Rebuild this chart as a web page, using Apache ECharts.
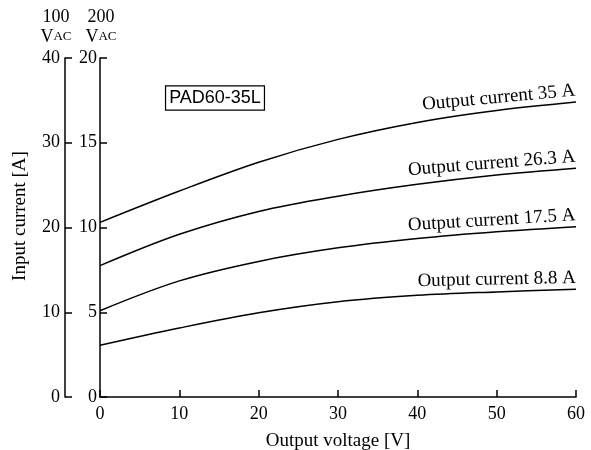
<!DOCTYPE html>
<html>
<head>
<meta charset="utf-8">
<script src="https://cdn.jsdelivr.net/npm/echarts@6/dist/echarts.min.js"></script>
<style>html,body{margin:0;padding:0;background:#fff}#c{width:591px;height:450px}</style>
</head>
<body>
<div id="c"></div>
<script>
var voltage = [0, 10, 20, 30, 40, 50, 60];
var current35 = [10.3, 12.15, 13.85, 15.2, 16.2, 16.9, 17.4];
var current263 = [7.75, 9.6, 10.95, 11.85, 12.55, 13.1, 13.5];
var current175 = [5.09, 6.85, 8.0, 8.8, 9.35, 9.75, 10.05];
var current88 = [3.05, 4.07, 4.97, 5.62, 6.0, 6.2, 6.35];
var seriesNames = ['Output current 35 A', 'Output current 26.3 A', 'Output current 17.5 A', 'Output current 8.8 A'];
var seriesValues = [current35, current263, current175, current88];
var labelAngles = [5.3, 4.6, 3.5, 1.2];
var ticks100 = [0, 10, 20, 30, 40];
var ticks200 = [0, 5, 10, 15, 20];

var serif = 'Liberation Serif';
var chart = echarts.init(document.getElementById('c'));

function buildSeries(i) {
  var vals = seriesValues[i];
  var data = vals.map(function (v, k) {
    var item = { value: [voltage[k], v] };
    if (k === vals.length - 1) {
      item.label = {
        show: true,
        formatter: seriesNames[i],
        position: 'top',
        distance: 2,
        align: 'right',
        verticalAlign: 'bottom',
        rotate: labelAngles[i],
        fontFamily: serif,
        fontSize: 19,
        color: '#000'
      };
    }
    return item;
  });
  return {
    type: 'line',
    name: seriesNames[i],
    yAxisIndex: 0,
    data: data,
    smooth: 0.35,
    symbol: 'circle',
    symbolSize: 0,
    showSymbol: true,
    lineStyle: { color: '#000', width: 1.5 },
    itemStyle: { color: '#000' },
    silent: true,
    animation: false
  };
}

var axisCommon = {
  axisLine: { show: true, lineStyle: { color: '#000', width: 1.5 } },
  axisTick: { show: true, inside: true, length: 7, lineStyle: { color: '#000', width: 1.5 } },
  splitLine: { show: false },
  axisLabel: { color: '#000', fontFamily: serif, fontSize: 18 }
};

chart.setOption({
  animation: false,
  grid: { left: 100, right: 15, top: 58, bottom: 53, containLabel: false, outerBoundsMode: 'none' },
  xAxis: Object.assign({}, axisCommon, {
    type: 'value', min: 0, max: 60, interval: 10,
    name: 'Output voltage [V]', nameLocation: 'middle', nameGap: 35,
    nameTextStyle: { color: '#000', fontFamily: serif, fontSize: 19 },
    axisLabel: { color: '#000', fontFamily: serif, fontSize: 18, margin: 8 }
  }),
  yAxis: [
    Object.assign({}, axisCommon, {
      type: 'value', min: 0, max: 20, interval: 5, position: 'left', offset: 0,
      axisLabel: { color: '#000', fontFamily: serif, fontSize: 18, margin: 3,
        formatter: function (v) { return ticks200.indexOf(v) >= 0 ? String(v) : ''; } }
    }),
    Object.assign({}, axisCommon, {
      type: 'value', min: 0, max: 40, interval: 10, position: 'left', offset: 35,
      axisLabel: { color: '#000', fontFamily: serif, fontSize: 18, margin: 5,
        formatter: function (v) { return ticks100.indexOf(v) >= 0 ? String(v) : ''; } }
    })
  ],
  graphic: [
    {
      type: 'text', x: 56, y: 17,
      style: { text: '100', fontFamily: serif, fontSize: 18, fill: '#000', align: 'center', verticalAlign: 'middle' }
    },
    {
      type: 'text', x: 56, y: 37,
      style: { text: '{a|V}{b|AC}', fill: '#000', align: 'center', verticalAlign: 'middle',
        rich: { a: { fontFamily: serif, fontSize: 18, fill: '#000' }, b: { fontFamily: serif, fontSize: 13, fill: '#000' } } }
    },
    {
      type: 'text', x: 101, y: 17,
      style: { text: '200', fontFamily: serif, fontSize: 18, fill: '#000', align: 'center', verticalAlign: 'middle' }
    },
    {
      type: 'text', x: 101, y: 37,
      style: { text: '{a|V}{b|AC}', fill: '#000', align: 'center', verticalAlign: 'middle',
        rich: { a: { fontFamily: serif, fontSize: 18, fill: '#000' }, b: { fontFamily: serif, fontSize: 13, fill: '#000' } } }
    },
    {
      type: 'text', x: 20, y: 216, rotation: Math.PI / 2,
      style: { text: 'Input current [A]', fontFamily: serif, fontSize: 19, fill: '#000', align: 'center', verticalAlign: 'middle' }
    },
    {
      type: 'text', x: 215, y: 98,
      style: { text: 'PAD60-35L', fontFamily: 'Liberation Sans', fontSize: 18, fill: '#000', align: 'center', verticalAlign: 'middle',
        borderColor: '#000', borderWidth: 1.2, padding: [3, 3, 2, 3], backgroundColor: '#fff' }
    }
  ],
  series: [buildSeries(0), buildSeries(1), buildSeries(2), buildSeries(3)]
});
</script>
</body>
</html>
